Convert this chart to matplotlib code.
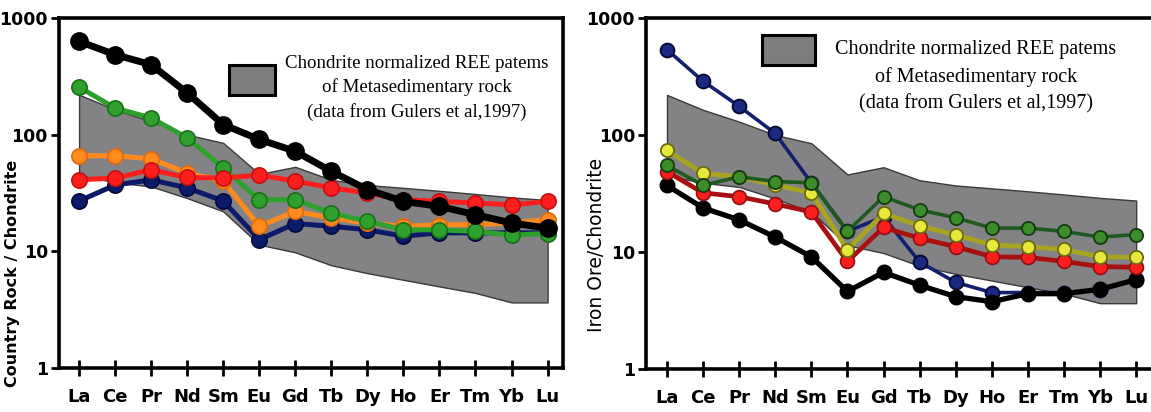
#REE spider diagrams: country rock and iron ore vs chondrite

import numpy as np
import matplotlib
matplotlib.use('Agg')
import matplotlib.pyplot as plt
from matplotlib.patches import Rectangle

ree = ['La', 'Ce', 'Pr', 'Nd', 'Sm', 'Eu', 'Gd', 'Tb', 'Dy', 'Ho', 'Er', 'Tm', 'Yb', 'Lu']

#Metasedimentary rock field (Gulers et al, 1997)
field_upper = [220, 164, 130, 100, 85, 46, 53, 41, 37, 35, 33, 31, 29, 27.5]
field_lower = [45, 39, 36, 28.6, 22, 11.4, 9.8, 7.6, 6.5, 5.7, 5.0, 4.4, 3.65, 3.65]

#Country rock samples
rock_black = [631, 485, 398, 228, 122, 91, 72, 48.5, 33.8, 26.8, 24.3, 20.6, 17.5, 15.8]
rock_green = [256, 169, 139, 94, 52, 27.7, 27.7, 21.3, 18.1, 15.3, 15.3, 14.8, 13.8, 14.2]
rock_orange = [66, 66, 62, 47, 40, 16.4, 22, 19.3, 17.5, 16.4, 16.9, 16.9, 17.5, 18.7]
rock_red = [41, 42.5, 50, 43, 42.5, 45, 40, 35, 31.6, 27.7, 26.8, 26, 25, 26.8]
rock_navy = [27, 37, 41, 35, 27, 12.6, 17.3, 16.4, 15.3, 13.5, 14.4, 14.4, 14.4, 14.4]

#Iron ore samples
ore_blue = [536, 288, 176, 103, 39, 15, 20, 8.2, 5.5, 4.5, 4.5, 4.5, 4.7, 5.9]
ore_green = [55, 37, 44, 40, 39, 15, 29.7, 22.9, 19.6, 16, 16, 15, 13.4, 14.1]
ore_yellow = [74, 47, 44, 37.4, 32, 10.4, 21.4, 16.7, 14, 11.5, 11.1, 10.5, 9.1, 9.0]
ore_red = [48.6, 32, 29.7, 25.7, 22, 8.3, 16.2, 13.1, 11.1, 9.1, 9.0, 8.3, 7.5, 7.4]
ore_black = [37, 23.8, 18.8, 13.4, 9.1, 4.6, 6.7, 5.2, 4.15, 3.76, 4.4, 4.4, 4.8, 5.8]

x = np.arange(len(ree))

fig = plt.figure(figsize=(11.51, 4.12), dpi=100)
ax1 = fig.add_axes([0.0513, 0.1068, 0.4379, 0.8495])
ax2 = fig.add_axes([0.5613, 0.1044, 0.4396, 0.852])

def style_axes(ax, xlim):
    ax.set_yscale('log')
    ax.set_ylim(1, 1000)
    ax.set_xlim(*xlim)
    ax.set_yticks([1, 10, 100, 1000])
    ax.set_yticklabels(['1', '10', '100', '1000'])
    ax.yaxis.set_minor_locator(matplotlib.ticker.NullLocator())
    ax.set_xticks(x)
    ax.set_xticklabels(ree)
    for s in ax.spines.values():
        s.set_linewidth(2.6)
    ax.tick_params(axis='x', direction='inout', length=11, width=2, pad=9, labelsize=13)
    ax.tick_params(axis='y', direction='out', length=6, width=2, pad=2, labelsize=12.5)
    for lab in ax.get_xticklabels() + ax.get_yticklabels():
        lab.set_fontweight('bold')

def draw_field(ax):
    ax.fill_between(x, field_lower, field_upper, color='#838386', edgecolor='#3a3a3a',
                    linewidth=1.0, zorder=1)

def draw_key(ax, px, py, pw, ph, tx, ty, size):
    ax.add_patch(Rectangle((px, py), pw, ph, transform=ax.transAxes, facecolor='#7d7d80',
                           edgecolor='black', linewidth=2.2, zorder=5))
    ax.text(tx, ty, 'Chondrite normalized REE patems\nof Metasedimentary rock\n(data from Gulers et al,1997)',
            transform=ax.transAxes, ha='center', va='center', multialignment='center',
            family='Liberation Serif', fontsize=size, linespacing=1.5, zorder=5)

##Country rock panel##
draw_field(ax1)
ax1.plot(x, rock_navy, '-o', color='#0c1a6a', lw=3.6, ms=11, mec='#050a3a', mew=1.2, zorder=2)
ax1.plot(x, rock_orange, '-o', color='#ff8a1e', lw=3.6, ms=11, mec='#e06a10', mew=1.2, zorder=3)
ax1.plot(x, rock_green, '-o', color='#2ea02e', lw=3.6, ms=11, mec='#1a701a', mew=1.2, zorder=4)
ax1.plot(x, rock_red, '-o', color='#ff1e1e', lw=3.6, ms=11, mec='#c41010', mew=1.2, zorder=5)
ax1.plot(x, rock_black, '-o', color='black', lw=5, ms=12.5, mec='black', zorder=6)

style_axes(ax1, (-0.556, 13.43))
ax1.set_ylabel('Country Rock / Chondrite', fontsize=11.5, fontweight='bold')
ax1.yaxis.set_label_coords(-0.078, 0.27)
draw_key(ax1, 0.337, 0.78, 0.092, 0.086, 0.71, 0.80, 13.6)

##Iron ore panel##
draw_field(ax2)
ax2.plot(x, ore_blue, '-o', color='#14206e', lw=2.6, ms=10, mfc='#1a2a80', mec='#050a30', mew=1.3, zorder=2)
ax2.plot(x, ore_black, '-o', color='black', lw=3.8, ms=10.5, mec='black', zorder=3)
ax2.plot(x, ore_red, '-o', color='#a81010', lw=3.4, ms=10, mfc='#ff1e1e', mec='#901010', mew=1.2, zorder=4)
ax2.plot(x, ore_yellow, '-o', color='#a8a420', lw=3.4, ms=9.5, mfc='#e8e83c', mec='#6a6a10', mew=1.3, zorder=5)
ax2.plot(x, ore_green, '-o', color='#1e5a1e', lw=2.6, ms=9.5, mfc='#3c8c2c', mec='#163a10', mew=1.3, zorder=6)

style_axes(ax2, (-0.58, 13.44))
ax2.set_ylabel('Iron Ore/Chondrite', fontsize=13.5)
ax2.yaxis.set_label_coords(-0.079, 0.353)
draw_key(ax2, 0.229, 0.866, 0.105, 0.086, 0.652, 0.832, 14.5)

fig.savefig('out.png', dpi=100)
